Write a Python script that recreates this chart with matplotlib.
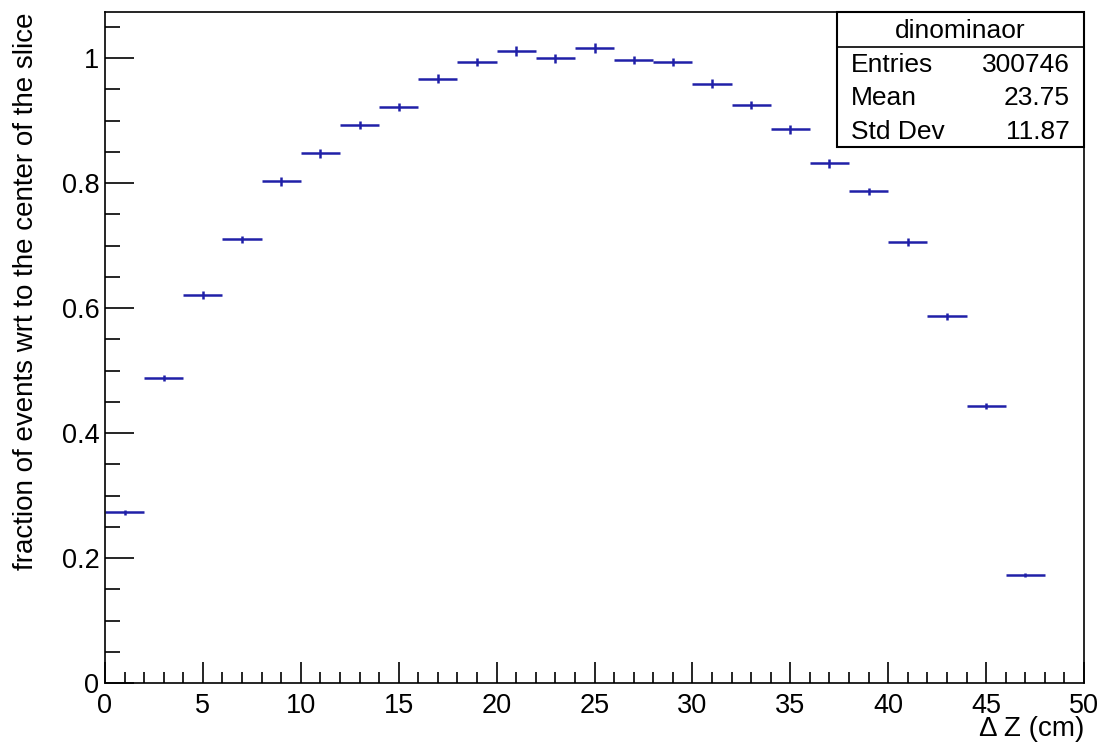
import matplotlib
matplotlib.use('Agg')
import matplotlib.pyplot as plt
import numpy as np
from matplotlib.ticker import MultipleLocator

# histogram data: 24 bins of 2 cm
bin_edges = list(range(0, 50, 2))
fractions = [0.273, 0.488, 0.621, 0.710, 0.803, 0.848, 0.893, 0.922,
             0.967, 0.994, 1.011, 1.000, 1.016, 0.997, 0.994, 0.959,
             0.925, 0.886, 0.832, 0.787, 0.706, 0.587, 0.443, 0.173]
errors = [0.004, 0.005, 0.006, 0.006, 0.007, 0.007, 0.007, 0.007,
          0.007, 0.007, 0.008, 0.007, 0.008, 0.007, 0.007, 0.007,
          0.007, 0.007, 0.007, 0.006, 0.006, 0.006, 0.005, 0.003]
stats_labels = ['Entries', 'Mean', 'Std Dev']
stats_values = ['300746', '23.75', '11.87']

plt.rcParams['font.family'] = ['Liberation Sans', 'DejaVu Sans']
FS_TICK = 19.5
FS_LAB = 20
FS_STAT = 19

fig = plt.figure(figsize=(11.04, 7.43), dpi=100)
ax = fig.add_axes([105 / 1104, 60 / 743, 979 / 1104, 671 / 743])

centers = np.array(bin_edges[:-1]) + 1.0
ax.errorbar(centers, fractions, xerr=1.0, yerr=errors, fmt='none',
            ecolor='#2020a8', elinewidth=1.8, capsize=0)

ax.set_xlim(0, 50)
ax.set_ylim(0, 1.074)
ax.xaxis.set_major_locator(MultipleLocator(5))
ax.xaxis.set_minor_locator(MultipleLocator(1))
ax.yaxis.set_major_locator(MultipleLocator(0.2))
ax.yaxis.set_minor_locator(MultipleLocator(0.05))
ax.tick_params(axis='both', which='both', direction='in', labelsize=FS_TICK,
               width=1.2, top=False, right=False)
ax.tick_params(axis='x', which='major', length=15, pad=7)
ax.tick_params(axis='x', which='minor', length=8)
ax.tick_params(axis='y', which='major', length=21, pad=4)
ax.tick_params(axis='y', which='minor', length=11)
ax.yaxis.set_major_formatter(plt.FuncFormatter(lambda v, p: f'{v:g}'))
for s in ax.spines.values():
    s.set_linewidth(1.2)

ax.set_ylabel('fraction of events wrt to the center of the slice', fontsize=FS_LAB)
ax.yaxis.set_label_coords(-0.067, 1.0)
ax.yaxis.label.set_horizontalalignment('right')
ax.set_xlabel('\u0394 Z (cm)', fontsize=FS_LAB)
ax.xaxis.set_label_coords(1.0, -(736 - 683) / 671)
ax.xaxis.label.set_horizontalalignment('right')
ax.xaxis.label.set_verticalalignment('baseline')

# stats box
bx0, bx1 = 837 / 1104, 1084 / 1104
by_top, by_bot = 1 - 12 / 743, 1 - 147 / 743
by_div = 1 - 47 / 743
fig.patches.append(plt.Rectangle((bx0, by_bot), bx1 - bx0, by_top - by_bot,
                                 transform=fig.transFigure, fill=True,
                                 facecolor='white', edgecolor='black', lw=1.5))
fig.add_artist(plt.Line2D([bx0, bx1], [by_div, by_div], color='black', lw=1.2,
                          transform=fig.transFigure))
fig.text((bx0 + bx1) / 2, 1 - 31 / 743, 'dinominaor', ha='center', va='center', fontsize=FS_STAT)
rows_y = [65, 98, 132]
for lab, val, ry in zip(stats_labels, stats_values, rows_y):
    fig.text(851 / 1104, 1 - ry / 743, lab, ha='left', va='center', fontsize=FS_STAT)
    fig.text(1070 / 1104, 1 - ry / 743, val, ha='right', va='center', fontsize=FS_STAT)

plt.savefig('out.png', dpi=100)
